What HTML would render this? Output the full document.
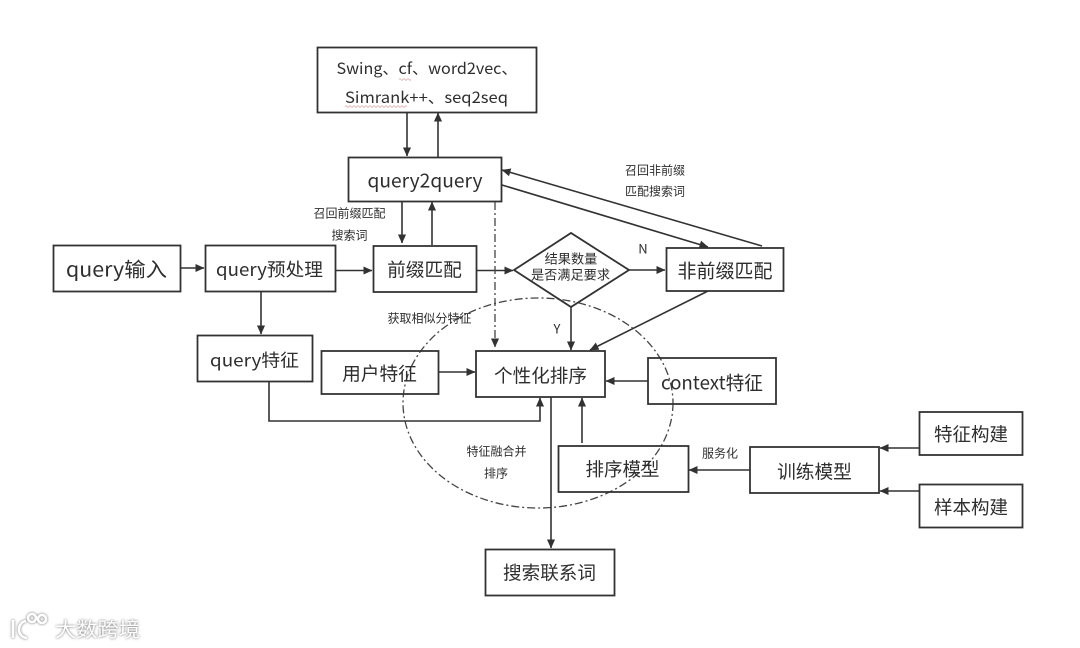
<!DOCTYPE html>
<html lang="zh">
<head>
<meta charset="utf-8">
<title>query suggestion diagram</title>
<style>
html,body{margin:0;padding:0;background:#fff;width:1080px;height:648px;overflow:hidden}
svg{display:block;position:absolute;left:0;top:0}
text{font-family:"Noto Sans CJK SC","Liberation Sans",sans-serif;fill:#2e2e2e;text-anchor:middle;dominant-baseline:central}
.box{fill:none;stroke:#333;stroke-width:1.8}
.ln{fill:none;stroke:#333;stroke-width:1.6}
.dash{fill:none;stroke:#444;stroke-width:1.3;stroke-dasharray:8 3 2 3}
.sm{font-size:12px}
.wm{fill:#fff;font-size:20px;text-anchor:start;filter:drop-shadow(0 0 1.2px #666)}
</style>
</head>
<body>
<svg width="1080" height="648" viewBox="0 0 1080 648" xmlns="http://www.w3.org/2000/svg">
<defs>
<marker id="a" viewBox="0 0 10 10" refX="9.5" refY="5" markerWidth="9" markerHeight="9" markerUnits="userSpaceOnUse" orient="auto"><path d="M0 0.5L10 5L0 9.5z" fill="#333"/></marker>
<filter id="soft" filterUnits="userSpaceOnUse" x="0" y="0" width="1080" height="648"><feGaussianBlur stdDeviation="0.3"/></filter>
</defs>
<g filter="url(#soft)">
<ellipse cx="538" cy="403" rx="135" ry="105" class="dash"/>
<rect class="box" x="317.5" y="47.5" width="219" height="65"/>
<rect class="box" x="348.5" y="157.5" width="153" height="44"/>
<rect class="box" x="53.5" y="245.5" width="127" height="46"/>
<rect class="box" x="205.5" y="245.5" width="130" height="46"/>
<rect class="box" x="373.5" y="246" width="103" height="46"/>
<rect class="box" x="666.5" y="248" width="117" height="43"/>
<polygon class="box" points="514,270 571,233 629,270 571,307"/>
<rect class="box" x="197.5" y="335.5" width="115" height="46"/>
<rect class="box" x="321.5" y="351" width="117" height="43"/>
<rect class="box" x="476" y="351" width="129" height="46"/>
<rect class="box" x="648" y="358" width="128" height="46"/>
<rect class="box" x="558.5" y="446" width="130" height="46"/>
<rect class="box" x="750" y="447" width="129" height="46"/>
<rect class="box" x="919.5" y="412" width="103" height="43"/>
<rect class="box" x="919.5" y="484.5" width="103" height="43"/>
<rect class="box" x="485.5" y="549.5" width="129" height="46"/>

<path class="ln" marker-end="url(#a)" d="M407 112V156"/>
<path class="ln" marker-end="url(#a)" d="M438 157V113"/>
<path class="ln" marker-end="url(#a)" d="M402 201V243"/>
<path class="ln" marker-end="url(#a)" d="M432 245V202"/>
<path class="ln" marker-end="url(#a)" d="M181 268H204"/>
<path class="ln" marker-end="url(#a)" d="M335 270.500H372"/>
<path class="ln" marker-end="url(#a)" d="M476 270.500H513"/>
<path class="ln" marker-end="url(#a)" d="M629 270H665"/>
<path class="ln" marker-end="url(#a)" d="M571 307V350"/>
<path class="ln" marker-end="url(#a)" d="M708 291L590 350"/>
<path class="ln" marker-end="url(#a)" d="M762 246L502 170"/>
<path class="ln" marker-end="url(#a)" d="M502 185L708 247"/>
<path class="ln" marker-end="url(#a)" d="M261 292V334"/>
<path class="ln" marker-end="url(#a)" d="M438 372H475"/>
<path class="ln" marker-end="url(#a)" d="M269 382V421H540V398"/>
<path class="ln" marker-end="url(#a)" d="M648 381H606"/>
<path class="ln" marker-end="url(#a)" d="M582 443V398"/>
<path class="ln" marker-end="url(#a)" d="M551 397V548"/>
<path class="ln" marker-end="url(#a)" d="M750 470H689"/>
<path class="ln" marker-end="url(#a)" d="M919 448H880"/>
<path class="ln" marker-end="url(#a)" d="M919 491H880"/>
<path class="dash" marker-end="url(#a)" d="M495 202V347"/>

<path d="M399 79.500q1-1.500 2 0t2 0t2 0t2 0t2 0t2 0" fill="none" stroke="#dca8a8" stroke-width="0.800"/>
<path d="M345 106.500q1-1.500 2 0t2 0t2 0t2 0t2 0t2 0t2 0t2 0t2 0t2 0t2 0t2 0t2 0t2 0t2 0t2 0t2 0t2 0t2 0t2 0t2 0t2 0t2 0t2 0t2 0t2 0t2 0t2 0t2 0t2 0t2 0" fill="none" stroke="#dca8a8" stroke-width="0.800"/>

<text x="427" y="68" font-size="15.500" textLength="181" lengthAdjust="spacingAndGlyphs">Swing、cf、word2vec、</text>
<text x="426.500" y="97" font-size="15.500" textLength="163" lengthAdjust="spacingAndGlyphs">Simrank++、seq2seq</text>
<text x="425" y="180" font-size="19" textLength="115" lengthAdjust="spacingAndGlyphs">query2query</text>
<text x="349.500" y="213" class="sm">召回前缀匹配</text>
<text x="349.500" y="235" class="sm">搜索词</text>
<text x="655" y="170" class="sm">召回非前缀</text>
<text x="655" y="191" class="sm">匹配搜索词</text>
<text x="116.500" y="268" font-size="20" textLength="101" lengthAdjust="spacingAndGlyphs">query输入</text>
<text x="269.500" y="269" font-size="18" textLength="107" lengthAdjust="spacingAndGlyphs">query预处理</text>
<text x="424.500" y="269" font-size="18.700">前缀匹配</text>
<text x="571" y="258" font-size="13.200">结果数量</text>
<text x="570.500" y="274" font-size="13.200">是否满足要求</text>
<text x="643" y="248" font-size="13">N</text>
<text x="557" y="328" font-size="13">Y</text>
<text x="725" y="270" font-size="19">非前缀匹配</text>
<text x="429.500" y="318" class="sm">获取相似分特征</text>
<text x="254.500" y="360" font-size="17.500" textLength="89" lengthAdjust="spacingAndGlyphs">query特征</text>
<text x="379.500" y="373" font-size="18.700">用户特征</text>
<text x="540.500" y="375" font-size="18.600">个性化排序</text>
<text x="712" y="382" font-size="19" textLength="102" lengthAdjust="spacingAndGlyphs">context特征</text>
<text x="496.500" y="451" class="sm">特征融合并</text>
<text x="496" y="473" class="sm">排序</text>
<text x="720" y="453" class="sm">服务化</text>
<text x="622.500" y="469" font-size="18.500">排序模型</text>
<text x="814.500" y="471" font-size="18.700">训练模型</text>
<text x="971" y="434" font-size="18.500">特征构建</text>
<text x="971" y="507" font-size="18.500">样本构建</text>
<text x="549.500" y="572" font-size="18.600">搜索联系词</text>
</g>

<g style="filter:drop-shadow(0 0 1.2px #666)" fill="none" stroke="#fff" stroke-width="2.600">
<path d="M13 620V638"/>
<path d="M26 621C17 622 16 637 27 638"/>
<circle cx="32" cy="618" r="4"/>
<circle cx="42" cy="619" r="4"/>
</g>
<text x="55" y="628" class="wm" textLength="85" lengthAdjust="spacingAndGlyphs">大数跨境</text>
</svg>
</body>
</html>
